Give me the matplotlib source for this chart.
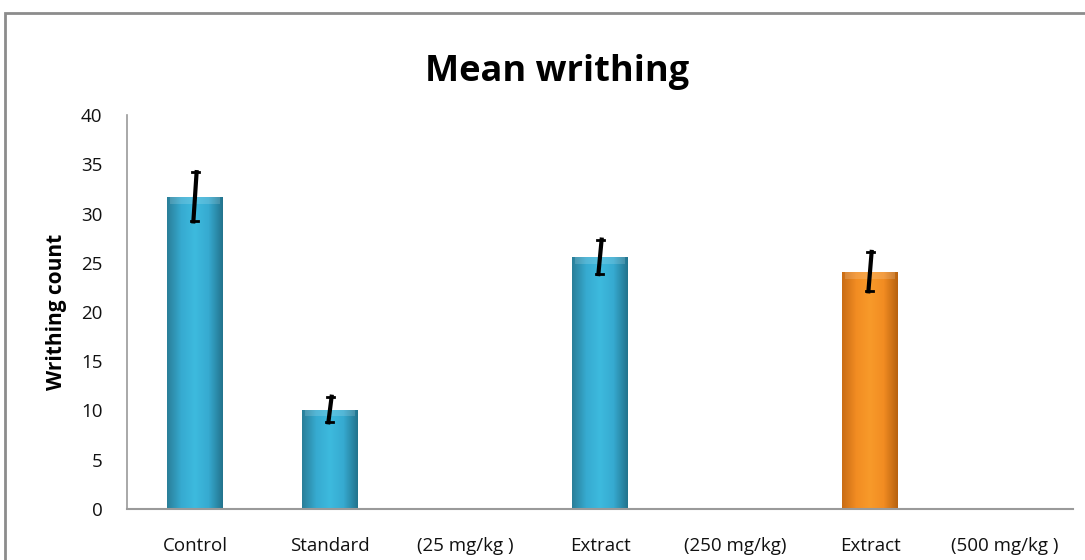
import numpy as np
import matplotlib
matplotlib.use("Agg")
import matplotlib.pyplot as plt
from matplotlib.patches import Rectangle
from matplotlib.colors import LinearSegmentedColormap

# data
categories = ["Control", "Standard", "(25 mg/kg )", "Extract", "(250 mg/kg)", "Extract", "(500 mg/kg )"]
bar_pos = [0, 1, 3, 5]
means = [31.7, 10.1, 25.6, 24.1]
errs = [2.5, 1.3, 1.75, 2.0]
bar_kind = ["blue", "blue", "blue", "orange"]

grad = {
    "blue": LinearSegmentedColormap.from_list("b", ["#2a7f99", "#36aad0", "#3dbade", "#36aad0", "#23748e"]),
    "orange": LinearSegmentedColormap.from_list("o", ["#c96d16", "#f28c22", "#f89a2a", "#f28c22", "#b8620f"]),
}
flat = {"blue": "#38b0d6", "orange": "#f4901f"}

plt.rcParams["font.family"] = ["Open Sans", "DejaVu Sans"]

fig = plt.figure(figsize=(10.85, 5.6), dpi=100)
ax = fig.add_axes([0.1175, 0.0911, 0.871, 0.7035])

# grey frame round the chart area
fig.patches.append(Rectangle((5 / 1085, -0.05), 1.1, 1 - 13 / 560 + 0.05, transform=fig.transFigure,
                             fill=False, edgecolor="#8c8c8c", linewidth=2))

w = 0.41
for x, m, e, k in zip(bar_pos, means, errs, bar_kind):
    b = ax.bar(x, m, width=w, color=flat[k], zorder=2)[0]
    img = ax.imshow(np.linspace(0, 1, 64).reshape(1, -1), cmap=grad[k], aspect="auto",
                    extent=[x - w / 2, x + w / 2, 0, m], zorder=2.1)
    img.set_clip_path(b)
    # light bevel on top
    ax.add_patch(Rectangle((x - w / 2 + 0.02, m - 0.7), w - 0.04, 0.7, color="white", alpha=0.15,
                           zorder=2.2, linewidth=0))
    # slanted error bar
    dx = 0.012
    ax.plot([x + dx, x - dx], [m + e, m - e], color="black", linewidth=3, zorder=3)
    ax.plot([x + dx - 0.035, x + dx + 0.02], [m + e, m + e], color="black", linewidth=2, zorder=3)
    ax.plot([x - dx - 0.02, x - dx + 0.035], [m - e, m - e], color="black", linewidth=2, zorder=3)

ax.set_xlim(-0.5, 6.5)
ax.set_ylim(0, 40)
ax.set_yticks(range(0, 41, 5))
ax.set_xticks(range(len(categories)))
ax.set_xticklabels(categories)
ax.tick_params(axis="both", length=0, labelsize=13.5, colors="#111111")
ax.tick_params(axis="y", pad=18)
ax.tick_params(axis="x", pad=20)

for s in ["top", "right"]:
    ax.spines[s].set_visible(False)
ax.spines["left"].set_color("#9a9a9a")
ax.spines["bottom"].set_color("#9a9a9a")
ax.spines["left"].set_linewidth(1.2)
ax.spines["bottom"].set_linewidth(1.5)

ax.set_ylabel("Writhing count", fontsize=15, fontweight="bold", labelpad=10)
fig.text(0.513, 0.872, "Mean writhing", ha="center", va="center", fontsize=26, fontweight="bold")

fig.savefig("out.png", dpi=100)
